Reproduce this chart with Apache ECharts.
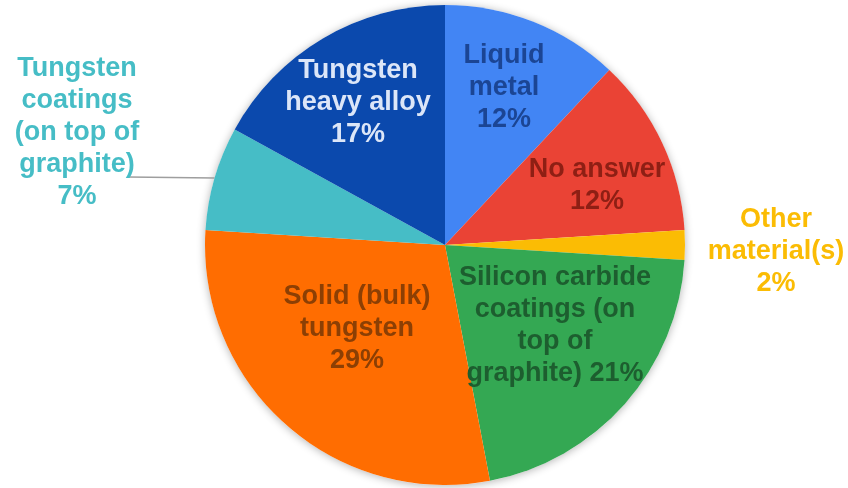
<!DOCTYPE html>
<html>
<head>
<meta charset="utf-8">
<script src="https://cdn.jsdelivr.net/npm/echarts@6/dist/echarts.min.js"></script>
<style>
  html, body { margin: 0; padding: 0; background: #ffffff; }
  #chart { width: 848px; height: 488px; }
</style>
</head>
<body>
<div id="chart"></div>
<script>
// Survey answers: preferred plasma-facing material (share of responses, %)
const categories = [
  'Liquid metal',
  'No answer',
  'Other material(s)',
  'Silicon carbide coatings (on top of graphite)',
  'Solid (bulk) tungsten',
  'Tungsten coatings (on top of graphite)',
  'Tungsten heavy alloy'
];
const shares = [12, 12, 2, 21, 29, 7, 17];

// How each category name is wrapped inside its label
const wrappedNames = [
  'Liquid\nmetal',
  'No answer',
  'Other\nmaterial(s)',
  'Silicon carbide\ncoatings (on\ntop of\ngraphite)',
  'Solid (bulk)\ntungsten',
  'Tungsten\ncoatings\n(on top of\ngraphite)',
  'Tungsten\nheavy alloy'
];

// Slice fills and label text colours
const sliceColors = ['#4285F4', '#EA4335', '#FBBC04', '#34A853', '#FF6D01', '#46BDC6', '#0B49AD'];
const labelColors = ['#1B4594', '#8E1F14', '#FBBC04', '#1D5E2F', '#8C3F04', '#46BDC6', '#DCE6F8'];

// Label placement (block centre) and whether the percentage shares the last line
const labelSpots = [
  { x: 504, y: 88,  inside: true,  sep: '\n' },
  { x: 597, y: 186, inside: true,  sep: '\n' },
  { x: 776, y: 252, inside: false, sep: '\n', line: false },
  { x: 555, y: 326, inside: true,  sep: ' ' },
  { x: 357, y: 329, inside: true,  sep: '\n' },
  { x: 77,  y: 133, inside: false, sep: '\n', line: true, lineEnd: [128, 177] },
  { x: 358, y: 103, inside: true,  sep: '\n' }
];

const chart = echarts.init(document.getElementById('chart'), null, { renderer: 'canvas' });

const pieData = categories.map((name, i) => ({
  name: name,
  value: shares[i],
  itemStyle: { color: sliceColors[i] },
  label: {
    position: labelSpots[i].inside ? 'inside' : 'outside',
    color: labelColors[i]
  },
  labelLine: {
    show: !!labelSpots[i].line,
    length: 10,
    length2: 60,
    lineStyle: { color: '#9E9E9E', width: 1.5 }
  }
}));

chart.setOption({
  animation: false,
  backgroundColor: '#ffffff',
  series: [
    {
      // soft drop shadow under the whole disc
      type: 'pie',
      z: 1,
      silent: true,
      center: [445, 245],
      radius: 240,
      label: { show: false },
      labelLine: { show: false },
      itemStyle: {
        color: '#ffffff',
        shadowBlur: 8,
        shadowOffsetY: 1,
        shadowColor: 'rgba(0, 0, 0, 0.3)'
      },
      emphasis: { disabled: true },
      data: [{ value: 1, name: '' }]
    },
    {
      type: 'pie',
      z: 2,
      center: [445, 245],
      radius: 240,
      startAngle: 90,
      clockwise: true,
      avoidLabelOverlap: false,
      itemStyle: { borderWidth: 0 },
      label: {
        show: true,
        fontFamily: '"Liberation Sans", Arial, sans-serif',
        fontWeight: 'bold',
        fontSize: 27,
        lineHeight: 32,
        align: 'center',
        formatter: p => wrappedNames[p.dataIndex] + labelSpots[p.dataIndex].sep + p.value + '%'
      },
      labelLayout: params => {
        if (params.seriesIndex !== 1) return;
        const spot = labelSpots[params.dataIndex];
        const out = { x: spot.x, y: spot.y, align: 'center', verticalAlign: 'middle' };
        if (spot.line && params.labelLinePoints) {
          const start = params.labelLinePoints[0];
          out.labelLinePoints = [start, spot.lineEnd, spot.lineEnd];
        }
        return out;
      },
      emphasis: { disabled: true },
      data: pieData
    }
  ]
});
</script>
</body>
</html>
